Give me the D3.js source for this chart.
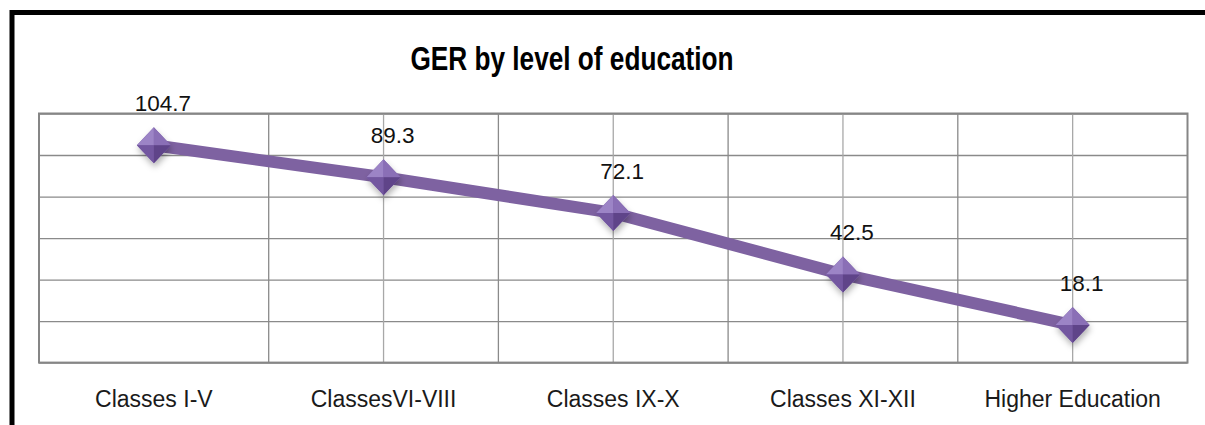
<!DOCTYPE html>
<html>
<head>
<meta charset="utf-8">
<script src="https://cdn.jsdelivr.net/npm/d3@7"></script>
<style>
  html, body { margin: 0; padding: 0; background: #fff; }
  svg { display: block; font-family: "Liberation Sans", Arial, sans-serif; }
</style>
</head>
<body>
<svg id="chart" width="1205" height="425"></svg>
<script>
// chart data
const categories = ['Classes I-V', 'ClassesVI-VIII', 'Classes IX-X', 'Classes XI-XII', 'Higher Education'];
const gerValues = [104.7, 89.3, 72.1, 42.5, 18.1];
const yTicks = [0, 20, 40, 60, 80, 100, 120];
const chartTitle = 'GER by level of education';

const width = 1205;
const height = 425;
const plot = { left: 39, right: 1187.5, top: 113.5, bottom: 362.6 };
const lineColor = '#7e62a1';
const gridColor = '#8a8a8a';

const svg = d3.select('#chart');

// soft shadow under the markers
const defs = svg.append('defs');
const shadow = defs.append('filter').attr('id', 'shadow')
    .attr('x', '-50%').attr('y', '-50%').attr('width', '200%').attr('height', '200%');
shadow.append('feDropShadow')
    .attr('dx', 1).attr('dy', 4).attr('stdDeviation', 3)
    .attr('flood-color', '#000').attr('flood-opacity', 0.3);

// outer frame (only top and left edges are visible in the crop)
svg.append('path')
    .attr('d', `M12,${height} L12,12.5 L${width},12.5`)
    .attr('fill', 'none')
    .attr('stroke', '#000')
    .attr('stroke-width', 5);

svg.append('text')
    .attr('x', 572)
    .attr('y', 70)
    .attr('text-anchor', 'middle')
    .attr('font-size', 34)
    .attr('font-weight', 'bold')
    .attr('textLength', 323)
    .attr('lengthAdjust', 'spacingAndGlyphs')
    .attr('fill', '#000')
    .text(chartTitle);

const x = d3.scaleBand()
    .domain(categories)
    .range([plot.left, plot.right])
    .padding(0);

const y = d3.scaleLinear()
    .domain([d3.min(yTicks), d3.max(yTicks)])
    .range([plot.bottom, plot.top]);

// half-band positions for the vertical grid
const xGrid = d3.scaleLinear()
    .domain([0, categories.length])
    .range([plot.left, plot.right]);

const centre = d => x(d) + x.bandwidth() / 2;

// horizontal gridlines
svg.append('g')
    .attr('transform', `translate(${plot.left},0)`)
    .call(d3.axisLeft(y).tickValues(yTicks).tickSize(-(plot.right - plot.left)).tickFormat(''))
    .call(g => g.select('.domain').remove())
    .call(g => g.selectAll('line').attr('stroke', gridColor).attr('stroke-width', 1.3));

// vertical gridlines at band boundaries
const boundaries = d3.range(1, categories.length);
svg.append('g')
    .selectAll('line')
    .data(boundaries)
    .join('line')
    .attr('x1', d => xGrid(d)).attr('x2', d => xGrid(d))
    .attr('y1', plot.top).attr('y2', plot.bottom)
    .attr('stroke', gridColor)
    .attr('stroke-width', 1.3);

// lighter lines through the category centres (not drawn for the first one in the original)
svg.append('g')
    .selectAll('line')
    .data(categories.slice(1))
    .join('line')
    .attr('x1', centre).attr('x2', centre)
    .attr('y1', plot.top).attr('y2', plot.bottom)
    .attr('stroke', '#a8a8a8')
    .attr('stroke-width', 1.3);

// plot border
svg.append('rect')
    .attr('x', plot.left).attr('y', plot.top)
    .attr('width', plot.right - plot.left)
    .attr('height', plot.bottom - plot.top)
    .attr('fill', 'none')
    .attr('stroke', '#868686')
    .attr('stroke-width', 2);

// category labels
svg.append('g')
    .attr('transform', `translate(0,${plot.bottom})`)
    .call(d3.axisBottom(x).tickSize(0).tickPadding(28))
    .call(g => g.select('.domain').remove())
    .call(g => g.selectAll('text')
        .attr('font-family', '"Liberation Sans", Arial, sans-serif')
        .attr('font-size', 23)
        .attr('fill', '#1a1a1a'));

const points = categories.map((c, i) => ({ cat: c, value: gerValues[i] }));

// the series line
svg.append('path')
    .datum(points)
    .attr('d', d3.line().x(d => centre(d.cat)).y(d => y(d.value)))
    .attr('fill', 'none')
    .attr('stroke', lineColor)
    .attr('stroke-width', 12)
    .attr('stroke-linejoin', 'round');

// bevelled diamond markers
const hw = 17, hh = 18;
const facets = [
    { pts: [[-hw, 0], [0, -hh], [0, 0]], fill: '#9c84c6' },
    { pts: [[0, -hh], [hw, 0], [0, 0]], fill: '#8a6fb6' },
    { pts: [[-hw, 0], [0, 0], [0, hh]], fill: '#7357a0' },
    { pts: [[0, 0], [hw, 0], [0, hh]], fill: '#5f4489' }
];

const markers = svg.append('g')
    .selectAll('g')
    .data(points)
    .join('g')
    .attr('transform', d => `translate(${centre(d.cat)},${y(d.value)})`);

markers.append('path')
    .attr('d', `M${-hw},0 L0,${-hh} L${hw},0 L0,${hh} Z`)
    .attr('fill', '#7b5ea7')
    .attr('filter', 'url(#shadow)');

markers.selectAll('.facet')
    .data(facets)
    .join('path')
    .attr('class', 'facet')
    .attr('d', f => 'M' + f.pts.map(p => p.join(',')).join('L') + 'Z')
    .attr('fill', f => f.fill);

// value labels
svg.append('g')
    .selectAll('text')
    .data(points)
    .join('text')
    .attr('x', d => centre(d.cat) + 9)
    .attr('y', d => y(d.value) - 34)
    .attr('text-anchor', 'middle')
    .attr('font-size', 22.5)
    .attr('fill', '#111')
    .text(d => d.value);
</script>
</body>
</html>
